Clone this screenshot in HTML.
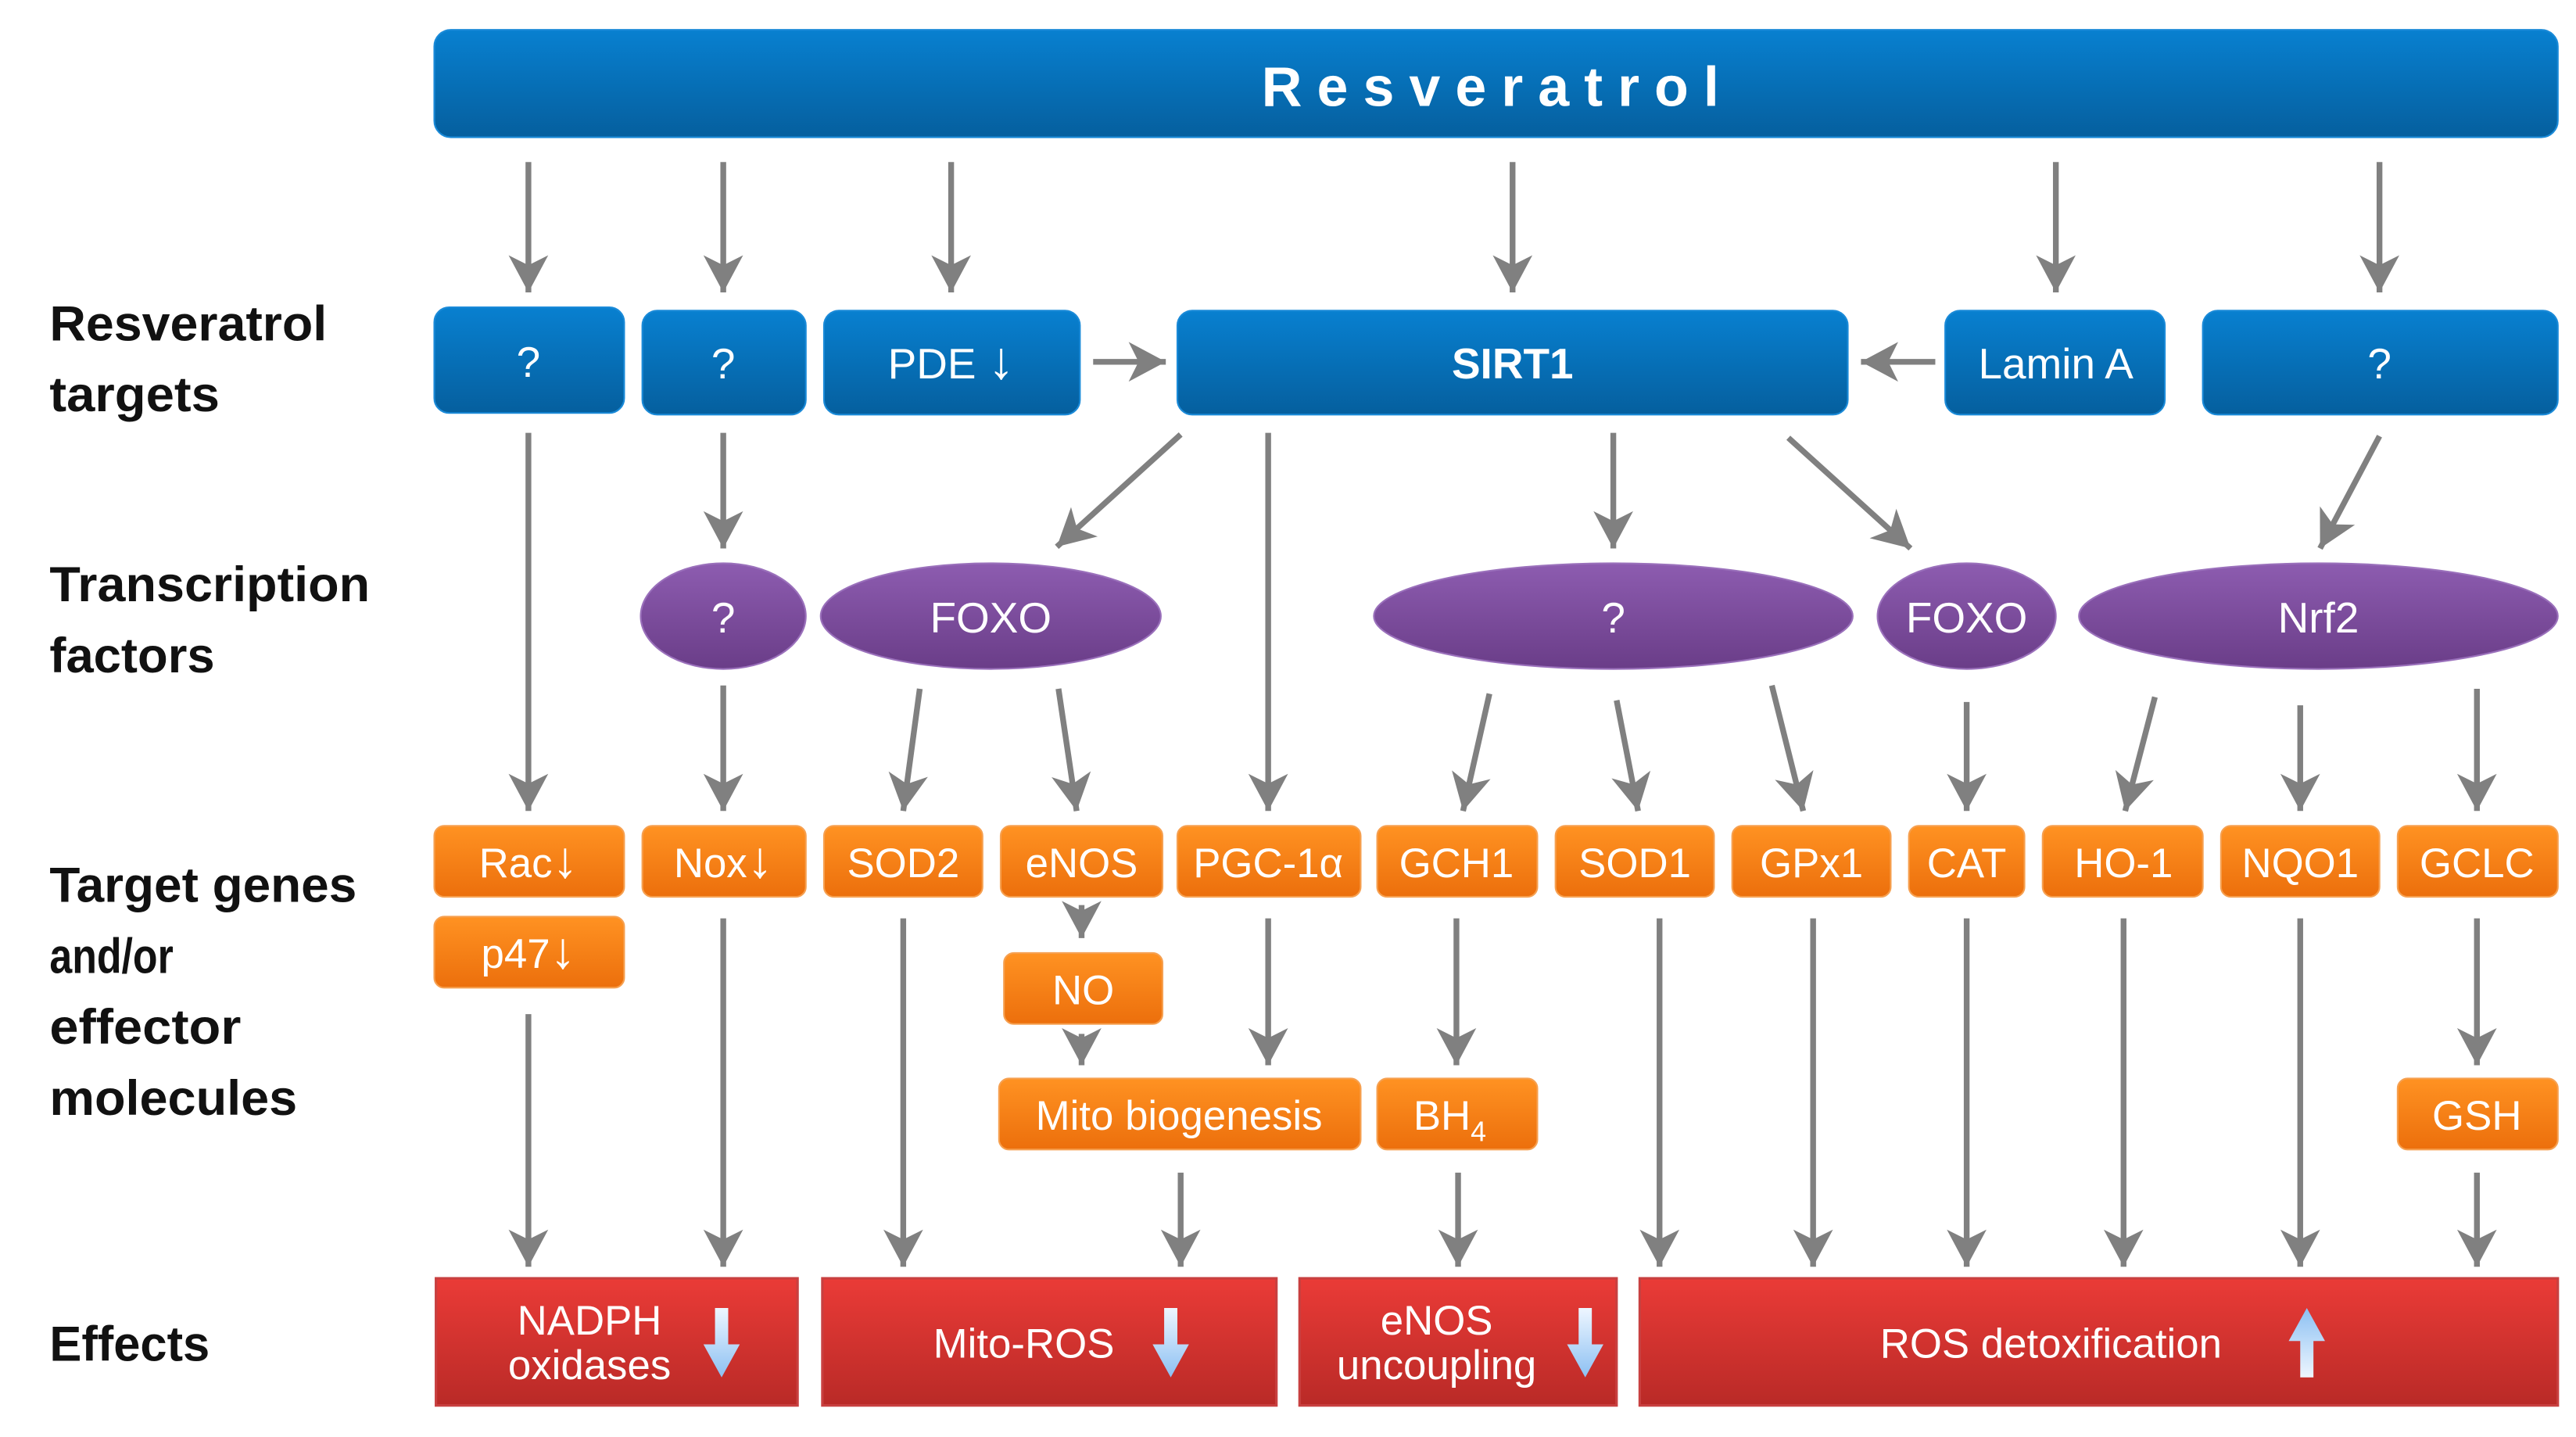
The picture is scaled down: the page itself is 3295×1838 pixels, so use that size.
<!DOCTYPE html>
<html><head><meta charset="utf-8"><style>
html,body{margin:0;padding:0;background:#fff;}
svg{display:block;}
text{font-family:"Liberation Sans","DejaVu Sans",sans-serif;}
</style></head><body>
<svg width="3295" height="1838" viewBox="0 0 1560 870" xmlns="http://www.w3.org/2000/svg">
<defs>
<linearGradient id="gb" x1="0" y1="0" x2="0" y2="1"><stop offset="0" stop-color="#0880d0"/><stop offset="1" stop-color="#055f9e"/></linearGradient>
<linearGradient id="gp" x1="0" y1="0" x2="0" y2="1"><stop offset="0" stop-color="#8d5cb0"/><stop offset="1" stop-color="#6a3d88"/></linearGradient>
<linearGradient id="go" x1="0" y1="0" x2="0" y2="1"><stop offset="0" stop-color="#ff9222"/><stop offset="1" stop-color="#ec6f0c"/></linearGradient>
<linearGradient id="gr" x1="0" y1="0" x2="0" y2="1"><stop offset="0" stop-color="#ea3b37"/><stop offset="1" stop-color="#b92a27"/></linearGradient>
<linearGradient id="gl" x1="0" y1="0" x2="0" y2="1"><stop offset="0" stop-color="#eef6ff"/><stop offset="1" stop-color="#8cc0f2"/></linearGradient>
<linearGradient id="gl2" x1="0" y1="1" x2="0" y2="0"><stop offset="0" stop-color="#eef6ff"/><stop offset="1" stop-color="#8cc0f2"/></linearGradient>
<marker id="ah" markerUnits="userSpaceOnUse" markerWidth="30" markerHeight="30" viewBox="-16 -10 20 20" refX="0" refY="0" orient="auto">
<path d="M-15,-8 L0,0 L-15,8 L-11,0 Z" fill="#808080"/>
</marker>
</defs>

<rect x="263" y="18" width="1286" height="65" rx="10" fill="url(#gb)" stroke="#1a8ad8" stroke-width="1"/>
<text x="907" y="64" font-size="34" font-weight="bold" fill="#fff" text-anchor="middle" letter-spacing="9">Resveratrol</text>

<g font-size="30" font-weight="bold" fill="#111">
<text x="30" y="206" textLength="168" lengthAdjust="spacingAndGlyphs">Resveratrol</text>
<text x="30" y="249" textLength="103" lengthAdjust="spacingAndGlyphs">targets</text>
<text x="30" y="364" textLength="194" lengthAdjust="spacingAndGlyphs">Transcription</text>
<text x="30" y="407" textLength="100" lengthAdjust="spacingAndGlyphs">factors</text>
<text x="30" y="546" textLength="186" lengthAdjust="spacingAndGlyphs">Target genes</text>
<text x="30" y="589" textLength="75" lengthAdjust="spacingAndGlyphs">and/or</text>
<text x="30" y="632" textLength="116" lengthAdjust="spacingAndGlyphs">effector</text>
<text x="30" y="675" textLength="150" lengthAdjust="spacingAndGlyphs">molecules</text>
<text x="30" y="824" textLength="97" lengthAdjust="spacingAndGlyphs">Effects</text>
</g>

<g stroke="#808080" stroke-width="3.5" fill="none" marker-end="url(#ah)">
<line x1="320" y1="98" x2="320" y2="177"/>
<line x1="438" y1="98" x2="438" y2="177"/>
<line x1="576" y1="98" x2="576" y2="177"/>
<line x1="916" y1="98" x2="916" y2="177"/>
<line x1="1245" y1="98" x2="1245" y2="177"/>
<line x1="1441" y1="98" x2="1441" y2="177"/>
<line x1="662" y1="219" x2="706" y2="219"/>
<line x1="1172" y1="219" x2="1127" y2="219"/>
<line x1="438" y1="262" x2="438" y2="332"/>
<line x1="715" y1="263" x2="640" y2="331"/>
<line x1="977" y1="262" x2="977" y2="332"/>
<line x1="1083" y1="265" x2="1157" y2="332"/>
<line x1="1441" y1="264" x2="1405" y2="332"/>
<line x1="320" y1="262" x2="320" y2="491"/>
<line x1="768" y1="262" x2="768" y2="491"/>
<line x1="438" y1="415" x2="438" y2="491"/>
<line x1="557" y1="417" x2="547" y2="491"/>
<line x1="641" y1="417" x2="652" y2="491"/>
<line x1="902" y1="420" x2="886" y2="491"/>
<line x1="979" y1="424" x2="992" y2="491"/>
<line x1="1073" y1="415" x2="1092" y2="491"/>
<line x1="1191" y1="425" x2="1191" y2="491"/>
<line x1="1305" y1="422" x2="1287" y2="491"/>
<line x1="1393" y1="427" x2="1393" y2="491"/>
<line x1="1500" y1="417" x2="1500" y2="491"/>
<line x1="655" y1="548" x2="655" y2="568"/>
<line x1="655" y1="626" x2="655" y2="645"/>
<line x1="768" y1="556" x2="768" y2="645"/>
<line x1="882" y1="556" x2="882" y2="645"/>
<line x1="1500" y1="556" x2="1500" y2="645"/>
<line x1="320" y1="614" x2="320" y2="767"/>
<line x1="438" y1="556" x2="438" y2="767"/>
<line x1="547" y1="556" x2="547" y2="767"/>
<line x1="715" y1="710" x2="715" y2="767"/>
<line x1="883" y1="710" x2="883" y2="767"/>
<line x1="1005" y1="556" x2="1005" y2="767"/>
<line x1="1098" y1="556" x2="1098" y2="767"/>
<line x1="1191" y1="556" x2="1191" y2="767"/>
<line x1="1286" y1="556" x2="1286" y2="767"/>
<line x1="1393" y1="556" x2="1393" y2="767"/>
<line x1="1500" y1="710" x2="1500" y2="767"/>
</g>

<g fill="url(#gb)" stroke="#1a8ad8" stroke-width="1">
<rect x="263" y="186" width="115" height="64" rx="9"/>
<rect x="389" y="188" width="99" height="63" rx="9"/>
<rect x="499" y="188" width="155" height="63" rx="9"/>
<rect x="713" y="188" width="406" height="63" rx="9"/>
<rect x="1178" y="188" width="133" height="63" rx="9"/>
<rect x="1334" y="188" width="215" height="63" rx="9"/>
</g>
<g font-size="26" fill="#fff" text-anchor="middle">
<text x="320" y="228">?</text>
<text x="438" y="229">?</text>
<text x="576" y="229">PDE <tspan font-size="32">↓</tspan></text>
<text x="916" y="229" font-weight="bold">SIRT1</text>
<text x="1245" y="229">Lamin A</text>
<text x="1441" y="229">?</text>
</g>

<g fill="url(#gp)" stroke="#9a70bb" stroke-width="1">
<ellipse cx="438" cy="373" rx="50" ry="32"/>
<ellipse cx="600" cy="373" rx="103" ry="32"/>
<ellipse cx="977" cy="373" rx="145" ry="32"/>
<ellipse cx="1191" cy="373" rx="54" ry="32"/>
<ellipse cx="1404" cy="373" rx="145" ry="32"/>
</g>
<g font-size="26" fill="#fff" text-anchor="middle">
<text x="438" y="383">?</text>
<text x="600" y="383">FOXO</text>
<text x="977" y="383">?</text>
<text x="1191" y="383">FOXO</text>
<text x="1404" y="383">Nrf2</text>
</g>

<g fill="url(#go)" stroke="#f6a050" stroke-width="1">
<rect x="263" y="500" width="115" height="43" rx="6"/>
<rect x="389" y="500" width="99" height="43" rx="6"/>
<rect x="499" y="500" width="96" height="43" rx="6"/>
<rect x="606" y="500" width="98" height="43" rx="6"/>
<rect x="713" y="500" width="111" height="43" rx="6"/>
<rect x="834" y="500" width="97" height="43" rx="6"/>
<rect x="942" y="500" width="96" height="43" rx="6"/>
<rect x="1049" y="500" width="96" height="43" rx="6"/>
<rect x="1156" y="500" width="70" height="43" rx="6"/>
<rect x="1237" y="500" width="97" height="43" rx="6"/>
<rect x="1345" y="500" width="96" height="43" rx="6"/>
<rect x="1452" y="500" width="97" height="43" rx="6"/>
<rect x="263" y="555" width="115" height="43" rx="6"/>
<rect x="608" y="577" width="96" height="43" rx="6"/>
<rect x="605" y="653" width="219" height="43" rx="6"/>
<rect x="834" y="653" width="97" height="43" rx="6"/>
<rect x="1452" y="653" width="97" height="43" rx="6"/>
</g>
<g font-size="25" fill="#fff" text-anchor="middle">
<text x="320" y="531">Rac<tspan font-size="31">↓</tspan></text>
<text x="438" y="531">Nox<tspan font-size="31">↓</tspan></text>
<text x="547" y="531">SOD2</text>
<text x="655" y="531">eNOS</text>
<text x="768" y="531">PGC-1α</text>
<text x="882" y="531">GCH1</text>
<text x="990" y="531">SOD1</text>
<text x="1097" y="531">GPx1</text>
<text x="1191" y="531">CAT</text>
<text x="1286" y="531">HO-1</text>
<text x="1393" y="531">NQO1</text>
<text x="1500" y="531">GCLC</text>
<text x="320" y="586">p47<tspan font-size="31">↓</tspan></text>
<text x="656" y="608">NO</text>
<text x="714" y="684">Mito biogenesis</text>
<text x="878" y="684">BH<tspan font-size="17" dy="7">4</tspan></text>
<text x="1500" y="684">GSH</text>
</g>

<g fill="url(#gr)" stroke="#c84040" stroke-width="1.5">
<rect x="264" y="774" width="219" height="77"/>
<rect x="498" y="774" width="275" height="77"/>
<rect x="787" y="774" width="192" height="77"/>
<rect x="993" y="774" width="556" height="77"/>
</g>
<g font-size="25" fill="#fff" text-anchor="middle">
<text x="357" y="808">NADPH</text>
<text x="357" y="835">oxidases</text>
<text x="620" y="822">Mito-ROS</text>
<text x="870" y="808">eNOS</text>
<text x="870" y="835">uncoupling</text>
<text x="1242" y="822">ROS  detoxification</text>
</g>
<g fill="url(#gl)">
<path d="M433,792 h8 v22 h7 l-11,20 l-11,-20 h7 z"/>
<path d="M705,792 h8 v22 h7 l-11,20 l-11,-20 h7 z"/>
<path d="M956,792 h8 v22 h7 l-11,20 l-11,-20 h7 z"/>
</g>
<path fill="url(#gl2)" d="M1393,834 h8 v-22 h7 l-11,-20 l-11,20 h7 z"/>
</svg>
</body></html>
